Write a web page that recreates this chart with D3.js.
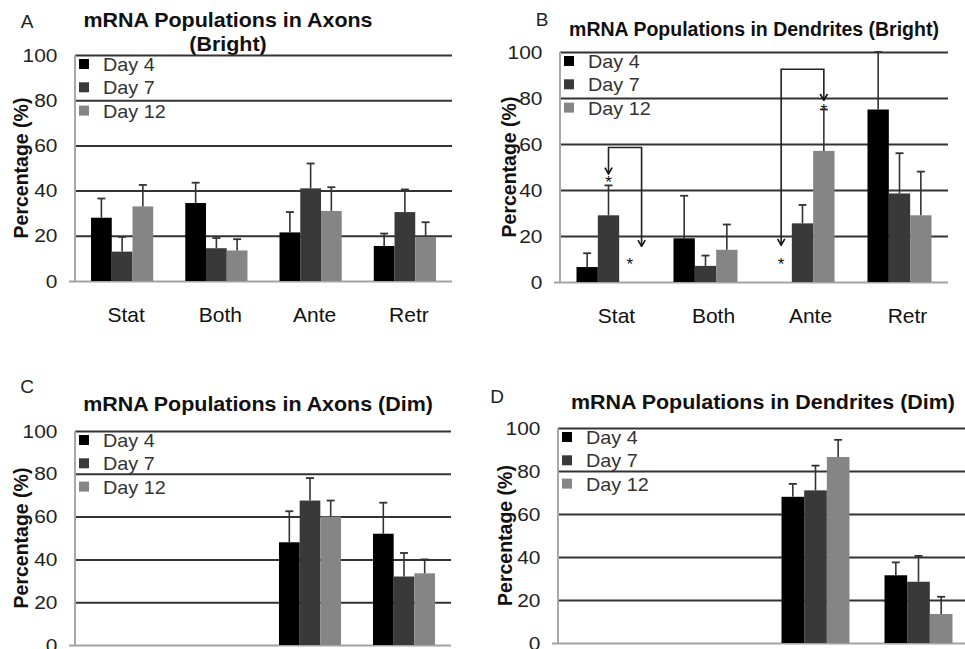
<!DOCTYPE html>
<html>
<head>
<meta charset="utf-8">
<script src="https://cdn.jsdelivr.net/npm/d3@7"></script>
<style>
  body { margin: 0; background: #fff; }
  svg { display: block; font-family: "Liberation Sans", Arial, sans-serif; }
</style>
</head>
<body>
<div id="chart"></div>
<script>
const categories = ['Stat', 'Both', 'Ante', 'Retr']
const days = ['Day 4', 'Day 7', 'Day 12']
const yTicks = [0, 20, 40, 60, 80, 100]

// means, one row per day (Day 4, Day 7, Day 12)
const axonsBright = [[28, 34.5, 21.5, 15.5], [13, 14.5, 41, 30.5], [33, 13.5, 31, 19.5]]
const axonsBrightErr = [[8.5, 9, 9, 5.5], [6.5, 4.5, 11, 10], [9.5, 5, 10.5, 6.5]]

const dendritesBright = [[6.5, 19, 0, 75], [29, 7, 25.5, 38.5], [0, 14, 57, 29]]
const dendritesBrightErr = [[6, 18.5, 0, 25], [13, 4.5, 8, 17.5], [0, 11, 18, 19]]

const axonsDim = [[0, 0, 48, 52], [0, 0, 67.5, 32], [0, 0, 60, 33.5]]
const axonsDimErr = [[0, 0, 14.5, 14.5], [0, 0, 10.5, 11], [0, 0, 7.5, 6.5]]

const dendritesDim = [[0, 0, 68, 31.5], [0, 0, 71, 28.5], [0, 0, 86.5, 13.5]]
const dendritesDimErr = [[0, 0, 6, 6], [0, 0, 11.5, 12], [0, 0, 8, 8]]

// significance brackets in panel B: category, left/right leg (in bar slots), top and arrow ends (%)
const bracketCats = ['Stat', 'Ante']
const bracketLeft = [1, 0]
const bracketRight = [2.55, 2]
const bracketTop = [58.5, 92.5]
const bracketLeftEnd = [47, 16]
const bracketRightEnd = [15.5, 79]

// asterisks in panel B
const starCats = ['Stat', 'Stat', 'Ante', 'Ante']
const starSlots = [1, 2, 0, 2]
const starValues = [45, 9, 9, 76]

const colors = ['#000000', '#393939', '#858585']

const svg = d3.select('#chart').append('svg')
  .attr('width', 965)
  .attr('height', 649)

// arrow drawn pointing along +x so orient=auto lines it up with the path
svg.append('defs').append('marker')
  .attr('id', 'arrow')
  .attr('viewBox', '0 0 10 10')
  .attr('refX', 9).attr('refY', 5)
  .attr('markerWidth', 9).attr('markerHeight', 9)
  .attr('markerUnits', 'userSpaceOnUse')
  .attr('orient', 'auto-start-reverse')
  .append('path')
  .attr('d', 'M2,1 L9,5 L2,9')
  .attr('fill', 'none')
  .attr('stroke', '#111')
  .attr('stroke-width', 1.8)

const panels = [
  {letter: 'A', lx: 27, ly: 28, title: ['mRNA Populations in Axons', '(Bright)'], tx: 228, ty: 27, sx: 1.1, labDx: -47,
    means: axonsBright, errs: axonsBrightErr, x0: 75, x1: 452, yTop: 55, yBot: 281, cats: true, catDx: 4},
  {letter: 'B', lx: 542, ly: 26, title: ['mRNA Populations in Dendrites (Bright)'], tx: 754, ty: 36, sx: 1.0, labDx: -44,
    means: dendritesBright, errs: dendritesBrightErr, x0: 560, x1: 948, yTop: 52, yBot: 282, cats: true, catDx: 8},
  {letter: 'C', lx: 27, ly: 393, title: ['mRNA Populations in Axons (Dim)'], tx: 258, ty: 411, sx: 1.1, labDx: -47,
    means: axonsDim, errs: axonsDimErr, x0: 75, x1: 451, yTop: 431, yBot: 645, cats: false},
  {letter: 'D', lx: 497, ly: 403, title: ['mRNA Populations in Dendrites (Dim)'], tx: 763, ty: 409, sx: 1.1, labDx: -46,
    means: dendritesDim, errs: dendritesDimErr, x0: 558, x1: 970, yTop: 428, yBot: 643, cats: false}
]

panels.forEach(p => {
  const g = svg.append('g')

  const x = d3.scaleBand().domain(categories).range([p.x0, p.x1])
    .paddingInner(0.34).paddingOuter(0.17)
  const xDay = d3.scaleBand().domain(d3.range(days.length)).range([0, x.bandwidth()])
  const y = d3.scaleLinear().domain([0, 100]).range([p.yBot, p.yTop])

  // panel letter + title
  g.append('text').text(p.letter)
    .attr('x', p.lx).attr('y', p.ly)
    .attr('text-anchor', 'middle')
    .attr('font-size', 19).attr('fill', '#222')

  p.title.forEach((t, i) => {
    g.append('text').text(t)
      .attr('transform', `translate(${p.tx},${p.ty + i * 24}) scale(${p.sx},1)`)
      .attr('text-anchor', 'middle')
      .attr('font-size', 19.5).attr('font-weight', 'bold').attr('fill', '#111')
  })

  // y axis with gridlines
  const yAxis = d3.axisLeft(y)
    .tickValues(yTicks)
    .tickSize(-(p.x1 - p.x0))
    .tickPadding(16)

  g.append('g')
    .attr('transform', `translate(${p.x0},0)`)
    .call(yAxis)
    .call(a => a.select('.domain').remove())
    .call(a => a.selectAll('.tick line')
      .attr('stroke', d => d === 0 ? '#a3a3a3' : '#333')
      .attr('stroke-width', 2)
      .attr('x1', d => d === 0 ? -6 : 0))
    .call(a => a.selectAll('.tick text')
      .attr('font-size', 19).attr('fill', '#222')
      .attr('font-family', '"Liberation Sans", Arial, sans-serif')
      .attr('transform', 'scale(1.1,1)'))

  g.append('line')
    .attr('x1', p.x0).attr('x2', p.x0)
    .attr('y1', p.yTop).attr('y2', p.yBot)
    .attr('stroke', '#a8a8a8').attr('stroke-width', 2)

  g.append('text').text('Percentage (%)')
    .attr('transform', `translate(${p.x0 + p.labDx},${(p.yTop + p.yBot) / 2}) rotate(-90)`)
    .attr('text-anchor', 'middle')
    .attr('font-size', 19.5).attr('font-weight', 'bold').attr('fill', '#111')

  // category labels
  if (p.cats) {
    g.append('g')
      .attr('transform', `translate(0,${p.yBot})`)
      .call(d3.axisBottom(x).tickSize(0).tickPadding(26))
      .call(a => a.select('.domain').remove())
      .call(a => a.selectAll('.tick text')
        .attr('font-size', 21).attr('fill', '#111')
        .attr('font-family', '"Liberation Sans", Arial, sans-serif')
        .attr('dx', p.catDx))
  }

  // bars
  const rows = []
  p.means.forEach((vals, di) => vals.forEach((v, ci) => {
    rows.push({day: di, cat: categories[ci], value: v, err: p.errs[di][ci]})
  }))

  g.append('g').selectAll('rect')
    .data(rows)
    .join('rect')
    .attr('x', d => x(d.cat) + xDay(d.day))
    .attr('y', d => y(d.value))
    .attr('width', xDay.bandwidth())
    .attr('height', d => y(0) - y(d.value))
    .attr('fill', d => colors[d.day])

  // error bars (upper only)
  const eb = g.append('g').selectAll('g')
    .data(rows.filter(d => d.err > 0))
    .join('g')
    .attr('transform', d => `translate(${x(d.cat) + xDay(d.day) + xDay.bandwidth() / 2},0)`)

  eb.append('line')
    .attr('y1', d => y(d.value)).attr('y2', d => y(d.value + d.err))
    .attr('stroke', '#333').attr('stroke-width', 1.6)
  eb.append('line')
    .attr('x1', -4).attr('x2', 4)
    .attr('y1', d => y(d.value + d.err)).attr('y2', d => y(d.value + d.err))
    .attr('stroke', '#333').attr('stroke-width', 1.8)

  // legend
  const lg = g.append('g').selectAll('g')
    .data(days)
    .join('g')
    .attr('transform', (d, i) => `translate(${p.x0 + 4},${p.yTop + 9 + i * 23.3})`)
  lg.append('rect')
    .attr('x', 0).attr('y', -5)
    .attr('width', 10).attr('height', 10)
    .attr('fill', (d, i) => colors[i])
  lg.append('text').text(d => d)
    .attr('transform', 'translate(24,7) scale(1.1,1)')
    .attr('font-size', 18).attr('fill', '#333')

  // significance marks (panel B)
  if (p.letter === 'B') {
    const slotX = (cat, s) => x(cat) + xDay.bandwidth() * (s + 0.5)
    bracketCats.forEach((cat, i) => {
      const xl = slotX(cat, bracketLeft[i])
      const xr = slotX(cat, bracketRight[i])
      g.append('path')
        .attr('d', `M${xl},${y(bracketLeftEnd[i])} V${y(bracketTop[i])} H${xr} V${y(bracketRightEnd[i])}`)
        .attr('fill', 'none')
        .attr('stroke', '#222').attr('stroke-width', 1.6)
        .attr('marker-start', 'url(#arrow)')
        .attr('marker-end', 'url(#arrow)')
    })
    starCats.forEach((cat, i) => {
      g.append('text').text('*')
        .attr('x', slotX(cat, starSlots[i]))
        .attr('y', y(starValues[i]) + 9)
        .attr('text-anchor', 'middle')
        .attr('font-size', 17).attr('fill', '#111')
    })
  }
})
</script>
</body>
</html>
